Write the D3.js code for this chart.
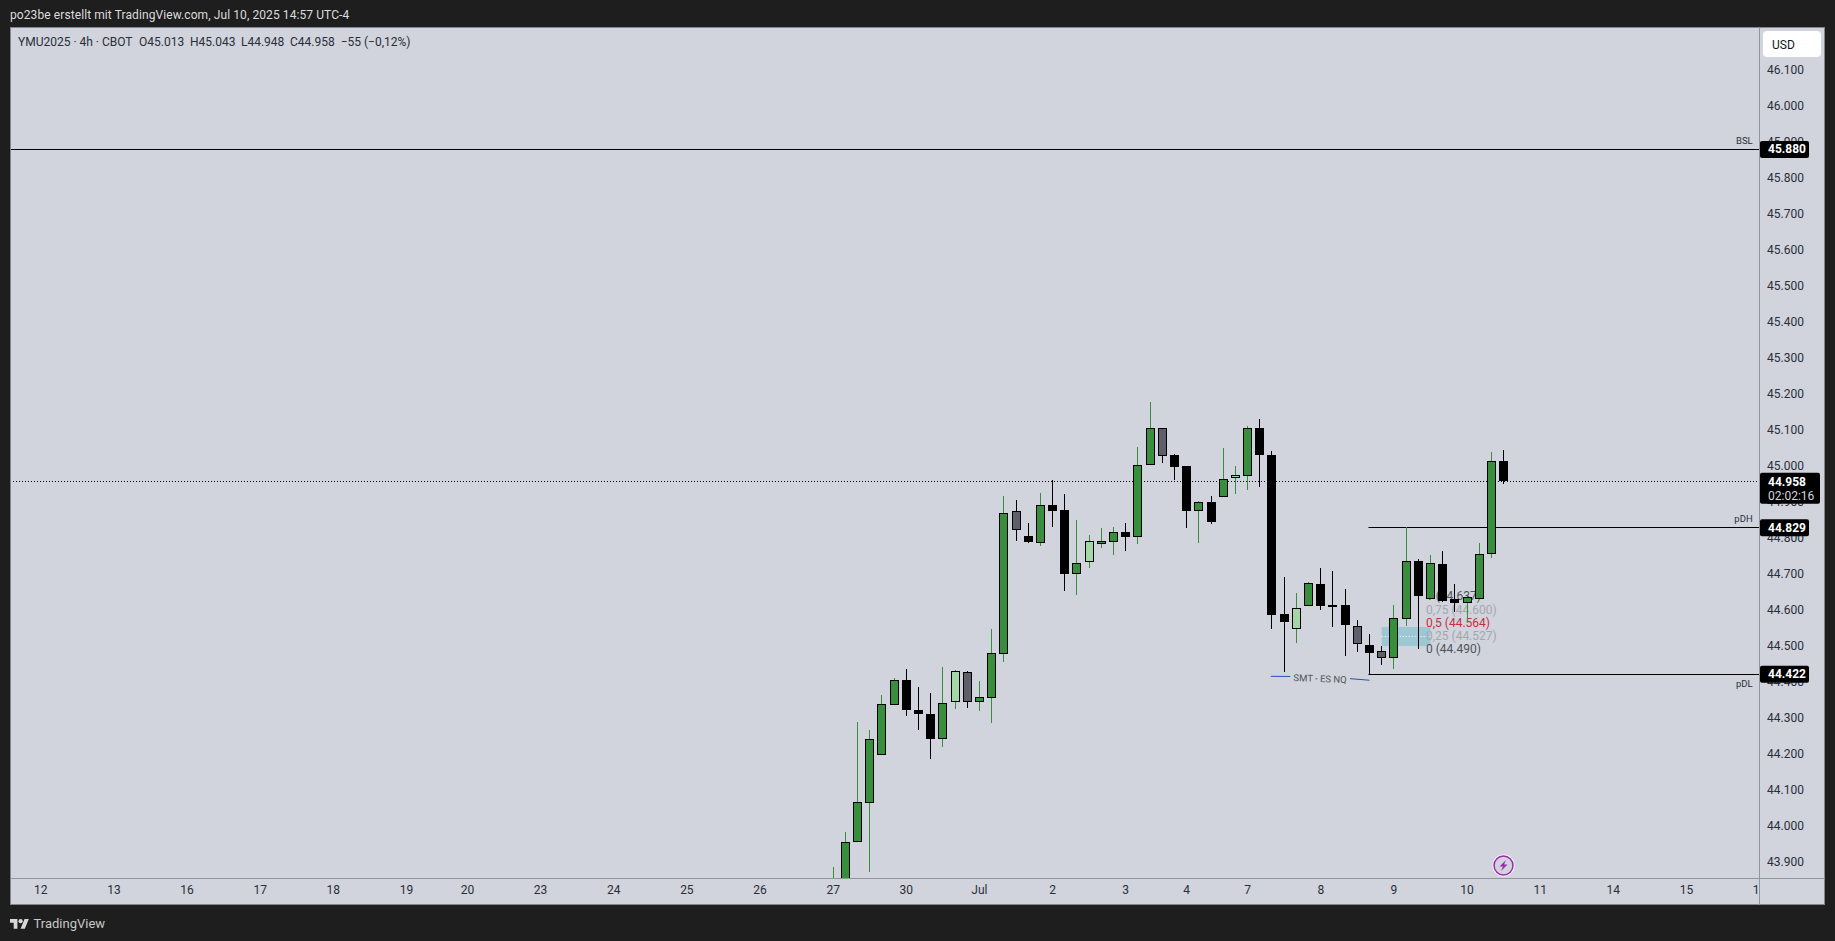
<!DOCTYPE html>
<html><head><meta charset="utf-8">
<script src="https://cdn.jsdelivr.net/npm/d3@7/dist/d3.min.js"></script>
<style>
html,body{margin:0;padding:0;background:#1e1e1e;overflow:hidden}
text{font-family:Roboto,"Open Sans",sans-serif}
</style></head><body>
<svg id="c" width="1835" height="941"></svg>
<script>
const opens =[43.80,43.82,43.954,44.064,44.197,44.334,44.404,44.321,44.310,44.242,44.345,44.426,44.343,44.356,44.478,44.873,44.806,44.786,44.890,44.876,44.700,44.733,44.783,44.789,44.817,44.803,45.003,45.106,45.029,44.998,44.875,44.898,44.914,44.966,44.972,45.106,45.029,44.587,44.547,44.609,44.670,44.612,44.613,44.556,44.503,44.484,44.465,44.573,44.734,44.631,44.726,44.629,44.620,44.629,44.754,45.013];
const highs =[43.885,43.983,44.288,44.266,44.363,44.410,44.435,44.385,44.369,44.441,44.433,44.430,44.402,44.546,44.916,44.904,44.841,44.924,44.960,44.921,44.849,44.807,44.827,44.829,44.841,45.052,45.176,45.106,45.032,45.000,44.902,44.917,45.049,45.000,45.110,45.129,45.041,44.691,44.646,44.677,44.716,44.707,44.657,44.571,44.532,44.498,44.613,44.829,44.742,44.752,44.762,44.671,44.638,44.784,45.038,45.043];
const lows  =[43.78,43.80,43.954,43.872,44.197,44.334,44.305,44.267,44.186,44.220,44.324,44.328,44.320,44.286,44.456,44.791,44.785,44.778,44.829,44.653,44.641,44.716,44.772,44.753,44.764,44.783,45.003,45.008,44.961,44.828,44.786,44.839,44.914,44.921,44.933,44.941,44.547,44.428,44.508,44.609,44.600,44.553,44.472,44.483,44.420,44.447,44.436,44.555,44.491,44.631,44.621,44.593,44.566,44.629,44.744,44.948];
const closes=[43.84,43.954,44.065,44.240,44.337,44.404,44.320,44.309,44.242,44.340,44.429,44.343,44.357,44.479,44.870,44.822,44.789,44.890,44.875,44.700,44.731,44.790,44.790,44.817,44.803,45.001,45.106,45.028,44.997,44.875,44.898,44.843,44.962,44.973,45.106,45.030,44.586,44.566,44.606,44.673,44.611,44.611,44.558,44.506,44.480,44.465,44.576,44.734,44.637,44.729,44.625,44.619,44.636,44.754,45.012,44.958];
// u = up, d = down, lu = light up, gd = grey down
const kinds =["u","u","u","u","u","u","d","d","d","u","lu","gd","u","u","u","gd","d","u","d","d","u","lu","u","u","d","u","u","gd","d","d","u","d","u","lu","u","d","d","d","lu","u","d","d","d","gd","d","gd","u","u","d","u","d","d","u","u","u","d"];

const dayTickIndex=[-65,-59,-53,-47,-41,-35,-30,-24,-18,-12,-6,0,6,12,18,24,29,34,40,46,52,58,64,70,76];
const dayTickLabels=["12","13","16","17","18","19","20","23","24","25","26","27","30","Jul","2","3","4","7","8","9","10","11","14","15","16"];
const priceTicks=[46.1,46.0,45.9,45.8,45.7,45.6,45.5,45.4,45.3,45.2,45.1,45.0,44.9,44.8,44.7,44.6,44.5,44.4,44.3,44.2,44.1,44.0,43.9];

const levelPrices=[45.880,44.829,44.422];
const levelNames=["BSL","pDH","pDL"];
const lastPrice=44.958, countdown="02:02:16";

const fibPrices=[44.637,44.600,44.564,44.527,44.490];
const fibNames=["1","0,75","0,5","0,25","0"];
const fibBoxPrices=[44.552,44.499];
const fibBoxIndex=[45,49];

const smtIndex=[35.9,37.5,42.4,44];
const smtPrice=[44.415,44.4145,44.4085,44.404];

const legendParts=["YMU2025 · 4h · CBOT","O45.013","H45.043","L44.948","C44.958","−55 (−0,12%)"];
const headerText="po23be erstellt mit TradingView.com, Jul 10, 2025 14:57 UTC-4";

const L=10,R=1759,T=27,B=878,OR=1825,OB=905;
const svg=d3.select("#c");
const x=d3.scaleLinear().domain([0,55]).range([833.155,1503.605]);
const px=i=>Math.floor(x(i))+.5;
const y=d3.scaleLinear().domain([45,46]).range([465.7,105.7]);
const py=p=>Math.round(y(p))+.5;

svg.append("rect").attr("width",1835).attr("height",941).attr("fill","#1e1e1e");
svg.append("rect").attr("x",L+.5).attr("y",T+.5).attr("width",OR-L-1).attr("height",OB-T-1).attr("fill","#d1d4dc").attr("stroke","#85868c");
svg.append("line").attr("x1",L).attr("x2",OR).attr("y1",B+.5).attr("y2",B+.5).attr("stroke","#93959c");
svg.append("line").attr("x1",R+.5).attr("x2",R+.5).attr("y1",T).attr("y2",OB).attr("stroke","#93959c");

const defs=svg.append("defs");
defs.append("clipPath").attr("id","plot").append("rect").attr("x",L+1).attr("y",T+1).attr("width",R-L-1).attr("height",B-T-1);
defs.append("clipPath").attr("id","xclip").append("rect").attr("x",L).attr("y",B).attr("width",R-L).attr("height",OB-B);

// header / footer
svg.append("text").attr("x",10).attr("y",19).attr("fill","#dcdcdc").attr("font-size",12).attr("letter-spacing",.09).text(headerText);
svg.append("g").attr("transform","translate(10,917) scale(.53)").attr("fill","#d8d8d8").call(g=>{
  g.append("path").attr("d","M14 22H7V11H0V4h14v18zM28 22h-8l7.5-18h8L28 22z");
  g.append("circle").attr("cx",20).attr("cy",8).attr("r",4);
});
svg.append("text").attr("x",33.5).attr("y",927.5).attr("fill","#c8c8c8").attr("font-size",13).text("TradingView");

// legend
const legendX=[18,139,190,241,290,340.7];
svg.append("g").selectAll("text").data(legendParts).join("text")
  .attr("x",(d,i)=>legendX[i]).attr("y",46).attr("fill","#2a2e39").attr("font-size",12).text(d=>d);

// axes
const yAxis=d3.axisRight(y).tickValues(priceTicks).tickFormat(d3.format(".3f")).tickSize(0).tickPadding(8);
svg.append("g").attr("transform",`translate(${R},0)`).call(yAxis).call(g=>{
  g.select(".domain").remove();
  g.selectAll("text").attr("fill","#2a2e39").attr("font-size",12).attr("font-family","Roboto");
});
const xAxis=d3.axisBottom(x).tickValues(dayTickIndex).tickFormat(d=>dayTickLabels[dayTickIndex.indexOf(d)]).tickSize(0).tickPadding(7);
svg.append("g").attr("clip-path","url(#xclip)").append("g").attr("transform",`translate(-.5,${B})`).call(xAxis).call(g=>{
  g.select(".domain").remove();
  g.selectAll("text").attr("fill","#2a2e39").attr("font-size",12).attr("font-family","Roboto");
});

const plot=svg.append("g").attr("clip-path","url(#plot)");

// fib box & labels beneath candles
plot.append("rect").attr("x",x(fibBoxIndex[0])).attr("width",x(fibBoxIndex[1])-x(fibBoxIndex[0]))
  .attr("y",y(fibBoxPrices[0])).attr("height",y(fibBoxPrices[1])-y(fibBoxPrices[0])).attr("fill","#9dc7d2");
plot.append("line").attr("x1",x(fibBoxIndex[0])).attr("x2",x(fibBoxIndex[1])).attr("y1",py(fibPrices[3])).attr("y2",py(fibPrices[3]))
  .attr("stroke","#fff").attr("stroke-dasharray","1 2");
const fibColors=d3.scaleOrdinal().domain(fibNames).range(["#50535e","#a5a7ae","#c4303c","#a5a7ae","#50535e"]);
plot.append("g").selectAll("text").data(fibPrices).join("text")
  .attr("x",x(49)-4.5).attr("y",d=>y(d)+4).attr("font-size",12)
  .attr("fill",(d,i)=>fibColors(fibNames[i])).text((d,i)=>`${fibNames[i]} (${d.toFixed(3)})`);

// price lines
plot.append("line").attr("x1",L).attr("x2",R-2).attr("y1",py(lastPrice)).attr("y2",py(lastPrice))
  .attr("stroke","#000").attr("stroke-dasharray","1 2");
plot.append("g").selectAll("line").data(levelPrices).join("line")
  .attr("x1",(d,i)=>i?1368.5:L).attr("x2",R)
  .attr("y1",d=>py(d)).attr("y2",d=>py(d)).attr("stroke","#000");

// candles
const up=k=>k==="u"||k==="lu";
const fillFor=d3.scaleOrdinal().domain(["u","d","lu","gd"]).range(["#388e3c","#000000","#a5d6a7","#5d606b"]);
const wickFor=k=>up(k)?"#388e3c":"#000";
const c=plot.append("g").selectAll("g").data(opens.map((o,i)=>i)).join("g");
c.append("line").attr("x1",i=>px(i)).attr("x2",i=>px(i))
  .attr("y1",i=>y(highs[i])).attr("y2",i=>y(lows[i])).attr("stroke",i=>wickFor(kinds[i])).attr("shape-rendering","crispEdges");
c.append("rect").attr("x",i=>px(i)-4).attr("width",8)
  .attr("y",i=>Math.round(y(Math.max(opens[i],closes[i])))+.5)
  .attr("height",i=>{const t=Math.round(y(Math.max(opens[i],closes[i])));const b=Math.round(y(Math.min(opens[i],closes[i])));return Math.max(b-t-1,1);})
  .attr("fill",i=>fillFor(kinds[i])).attr("stroke","#000").attr("shape-rendering","crispEdges");

// level names
svg.append("g").selectAll("text").data(levelPrices).join("text")
  .attr("x",1752.7).attr("text-anchor","end").attr("font-size",9.5).attr("fill","#2a2e39")
  .attr("y",(d,i)=>y(d)+(i===2?13:-5)).text((d,i)=>levelNames[i]);

// SMT annotation
const smtLine=d3.line().x(d=>x(d[0])).y(d=>y(d[1]));
plot.append("path").attr("d",smtLine([[smtIndex[0],smtPrice[0]],[smtIndex[1],smtPrice[1]]])).attr("stroke","#2a4fb0").attr("fill","none");
plot.append("path").attr("d",smtLine([[smtIndex[2],smtPrice[2]],[smtIndex[3],smtPrice[3]]])).attr("stroke","#2a4fb0").attr("fill","none");
plot.append("text").attr("transform","translate(1320,682) rotate(2)").attr("text-anchor","middle").attr("font-size",9.5).attr("fill","#50535e").text("SMT - ES NQ");

// price tags
const tag=svg.append("g").selectAll("g").data(levelPrices).join("g");
tag.append("rect").attr("x",1760).attr("width",49).attr("y",d=>y(d)-8).attr("height",17).attr("rx",2).attr("fill","#000");
tag.append("text").attr("x",1768).attr("y",d=>y(d)+4.5).attr("fill","#fff").attr("font-size",12).attr("font-weight",700).text(d=>d.toFixed(3));
svg.append("rect").attr("x",1760).attr("y",y(lastPrice)-8).attr("width",60).attr("height",31).attr("rx",2).attr("fill","#000");
svg.append("text").attr("x",1768).attr("y",y(lastPrice)+5).attr("fill","#fff").attr("font-size",12).attr("font-weight",700).text(lastPrice.toFixed(3));
svg.append("text").attr("x",1768).attr("y",y(lastPrice)+19).attr("fill","#d1d4dc").attr("font-size",12).text(countdown);

// currency button
svg.append("rect").attr("x",1763).attr("y",31).attr("width",58).attr("height",26).attr("rx",4).attr("fill","#fff");
svg.append("text").attr("x",1772).attr("y",48.5).attr("fill","#131722").attr("font-size",12).text("USD");

// bolt marker
const bolt=svg.append("g").attr("transform",`translate(${px(55)},865.5)`);
bolt.append("circle").attr("r",11).attr("fill","#fff");
bolt.append("circle").attr("r",9.5).attr("fill","#d1d4dc").attr("stroke","#9c27b0").attr("stroke-width",1.5);
bolt.append("path").attr("d","M2.5,-5.5L-4,1H-0.5L-2.5,5.5L4,-1H0.5Z").attr("fill","#9c27b0");
</script>
</body></html>
